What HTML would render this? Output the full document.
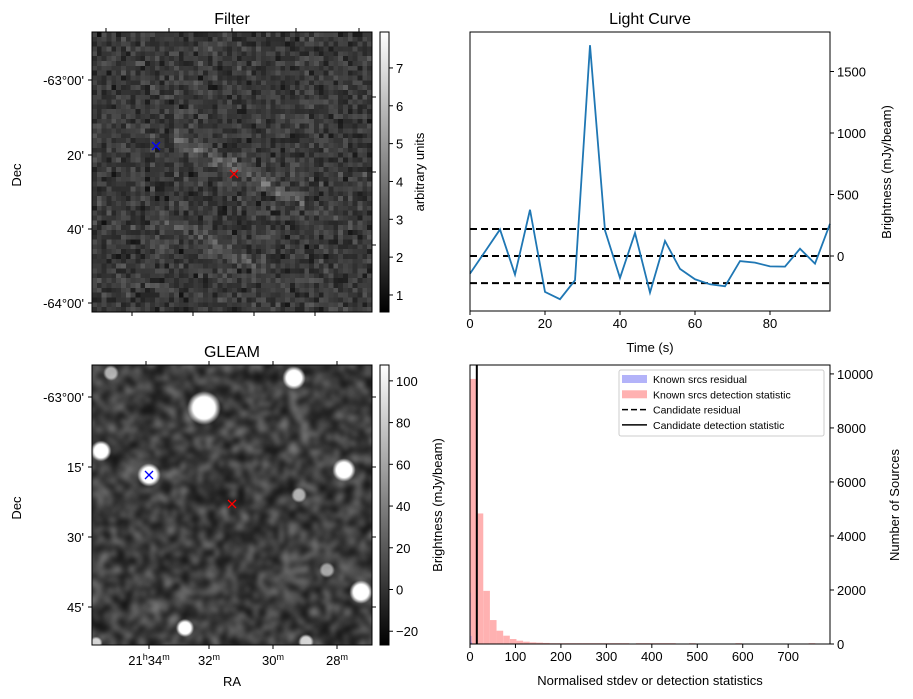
<!DOCTYPE html>
<html><head><meta charset="utf-8"><style>
body{margin:0;background:#fff;font-family:"Liberation Sans","DejaVu Sans",sans-serif;}
#wrap{position:relative;width:913px;height:699px;overflow:hidden;}
canvas{position:absolute;}
svg{position:absolute;left:0;top:0;}
</style></head><body>
<div id="wrap">
<canvas id="filterImg" width="58" height="58" style="left:92px;top:32px;width:280px;height:280px;image-rendering:pixelated;"></canvas>
<canvas id="gleamImg" width="280" height="280" style="left:92px;top:365px;width:280px;height:280px;"></canvas>
<svg id="svg" width="913" height="699"></svg>
</div>
<script>
// Light curve data
const lcTimes=[0,4,8,12,16,20,24,28,32,36,40,44,48,52,56,60,64,68,72,76,80,84,88,92,96];
const lcValues=[-143,36,216,-151,376,-292,-351,-197,1714,208,-178,187,-297,122,-105,-189,-230,-246,-41,-54,-84,-86,59,-62,262];
const lcThresholds=[220,0,-220];
const lcXTicks=[0,20,40,60,80];
const lcYTicks=[0,500,1000,1500];
// Histogram data
const histBinStarts=[0,14.6,29.2,43.8,58.4,73,87.6,102.2,116.8,131.4,146,160.6,175.2,189.8,204.4,219,233.6,248.2,262.8,277.4,292,306.6,321.2,335.8,365,379.6,394.2,408.8,423.4,438,482,584,745];
const histCounts=[9815,4834,1968,886,492,308,185,123,86,60,50,40,30,30,30,30,30,30,30,30,30,30,30,30,30,30,30,30,30,30,30,30,30];
const histResidualCounts=[1900,300,60];
const histCandidate=[15];
const histXTicks=[0,100,200,300,400,500,600,700];
const histYTicks=[0,2000,4000,6000,8000,10000];
// Colorbar ticks
const filterCbTicks=[1,2,3,4,5,6,7];
const gleamCbTicks=[-20,0,20,40,60,80,100];

const NS="http://www.w3.org/2000/svg";
const svg=document.getElementById('svg');
function el(tag,attrs,parent){const e=document.createElementNS(NS,tag);for(const k in attrs)e.setAttribute(k,attrs[k]);(parent||svg).appendChild(e);return e;}
function txt(x,y,s,opt,parent){const t=el('text',Object.assign({x:x,y:y,'font-size':13,fill:'#000'},opt||{}),parent);t.textContent=s;return t;}

// ---------- Light curve ----------
const LC={l:470,r:830,t:32,b:311,x0:0,x1:96,y0:-447,y1:1821};
const lx=v=>LC.l+(v-LC.x0)/(LC.x1-LC.x0)*(LC.r-LC.l);
const ly=v=>LC.b-(v-LC.y0)/(LC.y1-LC.y0)*(LC.b-LC.t);
let g=el('g',{});

txt(650,24,'Light Curve',{'font-size':16,'text-anchor':'middle'},g);
lcThresholds.forEach(v=>{const l=el('line',{x1:LC.l,x2:LC.r,y1:ly(v),y2:ly(v),stroke:'#000','stroke-width':2,'stroke-dasharray':'7,4'},g);
});
let pts=lcTimes.map((t,i)=>lx(t)+','+ly(lcValues[i])).join(' ');
let pl=el('polyline',{points:pts,fill:'none',stroke:'#1f77b4','stroke-width':1.8},g);

el('rect',{x:LC.l,y:LC.t,width:LC.r-LC.l,height:LC.b-LC.t,fill:'none',stroke:'#000','stroke-width':1},g);
lcXTicks.forEach(v=>{el('line',{x1:lx(v),x2:lx(v),y1:LC.b,y2:LC.b+4,stroke:'#000'},g);txt(lx(v),LC.b+17,String(v),{'text-anchor':'middle'},g);});
lcYTicks.forEach(v=>{el('line',{x1:LC.r,x2:LC.r+4,y1:ly(v),y2:ly(v),stroke:'#000'},g);txt(LC.r+7,ly(v)+5,String(v),{},g);});
txt(650,352,'Time (s)',{'text-anchor':'middle'},g);
txt(0,0,'Brightness (mJy/beam)',{'text-anchor':'middle',transform:'translate(891,172) rotate(-90)'},g);

// ---------- Histogram ----------
const H={l:470,r:830,t:365,b:644,x0:0,x1:792,y0:0,y1:10330};
const hx=v=>H.l+(v-H.x0)/(H.x1-H.x0)*(H.r-H.l);
const hy=v=>H.b-(v-H.y0)/(H.y1-H.y0)*(H.b-H.t);
g=el('g',{});

histBinStarts.forEach((s,i)=>{const r=el('rect',{x:hx(s),y:hy(histCounts[i]),width:hx(s+14.6)-hx(s),height:H.b-hy(histCounts[i]),fill:'#ffb1b1'},g);
});
histResidualCounts.forEach((c,i)=>{const r=el('rect',{x:hx(i*1.5),y:hy(c),width:hx(1.5)-hx(0),height:H.b-hy(c),fill:'#9b8ad8'},g);
});
histCandidate.forEach(v=>{const l=el('line',{x1:hx(v),x2:hx(v),y1:H.t,y2:H.b,stroke:'#000','stroke-width':2},g);
});
el('rect',{x:H.l,y:H.t,width:H.r-H.l,height:H.b-H.t,fill:'none',stroke:'#000'},g);
histXTicks.forEach(v=>{el('line',{x1:hx(v),x2:hx(v),y1:H.b,y2:H.b+4,stroke:'#000'},g);txt(hx(v),H.b+17,String(v),{'text-anchor':'middle'},g);});
histYTicks.forEach(v=>{el('line',{x1:H.r,x2:H.r+4,y1:hy(v),y2:hy(v),stroke:'#000'},g);txt(H.r+7,hy(v)+5,String(v),{},g);});
txt(650,685,'Normalised stdev or detection statistics',{'text-anchor':'middle'},g);
txt(0,0,'Number of Sources',{'text-anchor':'middle',transform:'translate(899,505) rotate(-90)'},g);
// legend
const lg=el('g',{},g);
el('rect',{x:619,y:370,width:205,height:66,fill:'#fff',stroke:'#ccc',rx:2},lg);
const legItems=[['Known srcs residual','patch','#b3b3f9'],['Known srcs detection statistic','patch','#ffb1b1'],['Candidate residual','dash','#000'],['Candidate detection statistic','line','#000']];
legItems.forEach((it,i)=>{const y=379+i*15.3;
 if(it[1]==='patch')el('rect',{x:622,y:y-4,width:25,height:8,fill:it[2]},lg);
 else el('line',{x1:622,x2:647,y1:y,y2:y,stroke:'#000','stroke-width':1.5,'stroke-dasharray':it[1]==='dash'?'6,3':'none'},lg);
 const t=txt(653,y+4,it[0],{'font-size':10.5},lg);});

// ---------- Image panels axes ----------
function imgPanel(name,top,title,decTicks,decLabels,topTicks,botTicks,rightTicks,cb){
 const G=el('g',{});
 el('rect',{x:92,y:top,width:280,height:280,fill:'none',stroke:'#000'},G);
 txt(232,top-8,title,{'font-size':16,'text-anchor':'middle'},G);
 decTicks.forEach((y,i)=>{el('line',{x1:88,x2:92,y1:y,y2:y,stroke:'#000'},G);txt(84,y+5,decLabels[i],{'text-anchor':'end'},G);});
 topTicks.forEach(x=>el('line',{x1:x,x2:x,y1:top-4,y2:top,stroke:'#000'},G));
 botTicks.forEach(x=>el('line',{x1:x,x2:x,y1:top+280,y2:top+284,stroke:'#000'},G));
 rightTicks.forEach(y=>el('line',{x1:372,x2:376,y1:y,y2:y,stroke:'#000'},G));
 txt(0,0,'Dec',{'text-anchor':'middle',transform:'translate(21,'+(top+143)+') rotate(-90)'},G);
 const gid=name+'grad';const d=el('defs',{},G);const lgd=el('linearGradient',{id:gid,x1:0,y1:1,x2:0,y2:0},d);
 el('stop',{offset:0,'stop-color':'#000'},lgd);el('stop',{offset:1,'stop-color':'#fff'},lgd);
 const cr=el('rect',{x:380,y:top,width:9,height:280,fill:'url(#'+gid+')',stroke:'#000'},G);
 
 const cy=v=>top+280-(v-cb.min)/(cb.max-cb.min)*280;
 cb.ticks.forEach(v=>{el('line',{x1:389,x2:393,y1:cy(v),y2:cy(v),stroke:'#000'},G);txt(396,cy(v)+5,v<0?'\u2212'+(-v):String(v),{},G);});
 txt(0,0,cb.label,{'text-anchor':'middle',transform:'translate('+cb.lx+','+(top+140)+') rotate(-90)'},G);
 return G;}
imgPanel('filter',32,'Filter',[80,155,229,303],['-63°00\'','20\'','40\'','-64°00\''],[106,169,232,296,359],[132,193,254,315],[97,172,245],
 {min:0.55,max:7.95,ticks:filterCbTicks,label:'arbitrary units',lx:424});
const G2=imgPanel('gleam',365,'GLEAM',[397,467,537,607],['-63°00\'','15\'','30\'','45\''],[146,209,273,337],[149,209,273,337],[397,467,537,607],
 {min:-26.6,max:107.6,ticks:gleamCbTicks,label:'Brightness (mJy/beam)',lx:442});
[['21','34',149],['','32',209],['','30',273],['','28',337]].forEach(a=>{
 const t=el('text',{x:a[2],y:665,'font-size':13,'text-anchor':'middle'},G2);
 if(a[0]){const s1=el('tspan',{},t);s1.textContent='21';const s2=el('tspan',{dy:-5,'font-size':9},t);s2.textContent='h';const s3=el('tspan',{dy:5},t);s3.textContent='34';}
 else{const s3=el('tspan',{},t);s3.textContent=a[1];}
 const s4=el('tspan',{dy:-5,'font-size':9},t);s4.textContent='m';});
txt(232,686,'RA',{'text-anchor':'middle'},G2);
function cross(x,y,c,n){const m=el('path',{d:`M${x-4},${y-4}L${x+4},${y+4}M${x-4},${y+4}L${x+4},${y-4}`,stroke:c,'stroke-width':1.3});
 }
cross(156,146,'#0000ff','filter-known-source-marker');cross(234,174,'#ff0000','filter-candidate-marker');
cross(149,475,'#0000ff','gleam-known-source-marker');cross(232,504,'#ff0000','gleam-candidate-marker');

// ---------- Image textures ----------
let seed=12345;function rnd(){seed=(seed*16807)%2147483647;return seed/2147483647;}
(function(){const c=document.getElementById('filterImg').getContext('2d');const N=58;const im=c.createImageData(N,N);
 for(let j=0;j<N;j++)for(let i=0;i<N;i++){let v=(rnd()+rnd()+rnd())/3*90+12;
  const d=Math.abs((j-23)-0.5*(i-20));if(i>16&&i<44&&d<2.5)v+=(2.5-d)*22*rnd()+10;
  const d2=Math.abs((j-39)-0.5*(i-16));if(i>12&&i<36&&d2<2.5)v+=(2.5-d2)*15*rnd()+5;
  v=Math.min(255,v);const k=(j*N+i)*4;im.data[k]=im.data[k+1]=im.data[k+2]=v;im.data[k+3]=255;}
 c.putImageData(im,0,0);})();
(function(){const cv=document.getElementById('gleamImg');const c=cv.getContext('2d');
 const s=document.createElement('canvas');s.width=70;s.height=70;const sc=s.getContext('2d');const im=sc.createImageData(70,70);
 for(let k=0;k<70*70;k++){const v=15+Math.pow(rnd(),1.6)*120;im.data[k*4]=im.data[k*4+1]=im.data[k*4+2]=v;im.data[k*4+3]=255;}
 sc.putImageData(im,0,0);c.imageSmoothingEnabled=true;c.filter='blur(2.5px)';c.drawImage(s,-10,-10,300,300);c.filter='none';
 const blobs=[[19,8,6,0.6],[112,43,13,1],[202,13,9,1],[9,86,8,1],[57,110,9,1],[252,105,9,1],[207,130,6,0.6],[235,205,6,0.55],[269,227,9,1],[93,263,7,1],[4,278,5,0.8],[214,277,6,0.8]];
 blobs.forEach(b=>{const gr=c.createRadialGradient(b[0],b[1],0,b[0],b[1],b[2]*1.3);gr.addColorStop(0,'rgba(255,255,255,'+b[3]+')');gr.addColorStop(0.65,'rgba(255,255,255,'+b[3]+')');gr.addColorStop(1,'rgba(255,255,255,0)');c.fillStyle=gr;c.fillRect(0,0,280,280);});})();
</script>
</body></html>
